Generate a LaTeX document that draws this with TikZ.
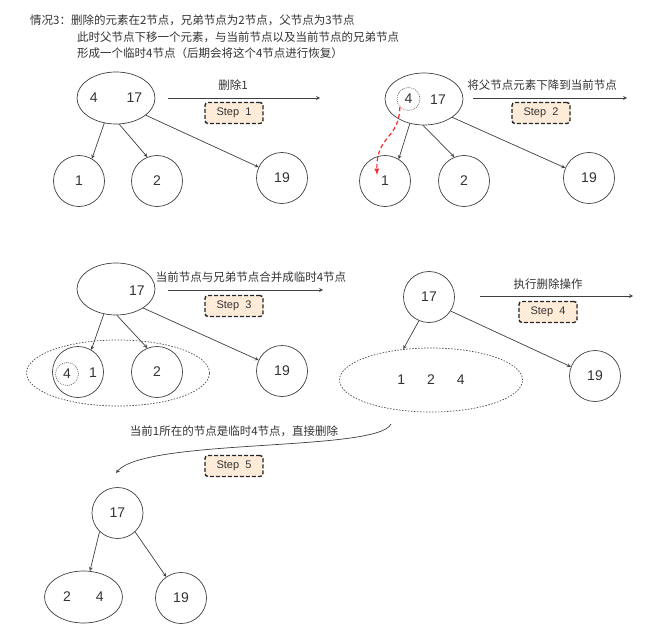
\documentclass[tikz,border=0pt]{standalone}
\usepackage{fontspec}
\setmainfont{Liberation Sans}
\newfontfamily\cjk{Noto Sans CJK SC}
\usetikzlibrary{calc,positioning,arrows,shapes,patterns}

\begin{document}
\begin{tikzpicture}[x=1pt,y=-1pt,>=stealth,
  every node/.style={text=black!80},
  nd/.style={draw=black!75,line width=.7pt,circle,minimum size=51pt,inner sep=0pt,font=\fontsize{14}{16}\selectfont},
  ell/.style={draw=black!75,line width=.7pt,ellipse,minimum width=78pt,minimum height=52pt,inner sep=0pt,font=\fontsize{14}{16}\selectfont},
  tmp/.style={draw=black!70,line width=.7pt,dash pattern=on 1.5pt off 1.5pt,ellipse,minimum width=183pt,minimum height=66pt,inner sep=0pt,font=\fontsize{14}{16}\selectfont},
  num/.style={font=\fontsize{14}{16}\selectfont,inner sep=0pt},
  sel/.style={draw=black!60,line width=.6pt,dash pattern=on 1pt off 1pt,circle,minimum size=23pt,inner sep=0pt,font=\fontsize{14}{16}\selectfont},
  txt/.style={font=\cjk\fontsize{11.5}{13}\selectfont,inner sep=0pt},
  stepbox/.style={draw=black!85,line width=1.4pt,dash pattern=on 4pt off 2pt,rounded corners=3pt,minimum width=58pt,minimum height=21pt,inner sep=0pt,font=\fontsize{11}{12}\selectfont,preaction={fill=orange!22},pattern=north east lines,pattern color=white},
  link/.style={->,draw=black!75,line width=.7pt}]
  \useasboundingbox[fill=white] (0,0) rectangle (661,639);

  % title
  \node[txt,anchor=west] (t1) at (30,20) {情况3：删除的元素在2节点，兄弟节点为2节点，父节点为3节点};
  \node[txt,anchor=west] (t2) at (77,37) {此时父节点下移一个元素，与当前节点以及当前节点的兄弟节点};
  \node[txt,anchor=west] (t3) at (77,53) {形成一个临时4节点（后期会将这个4节点进行恢复）};

  % step 1
  \node[ell] (p1) at (116,98) {4\hspace{29pt}17};
  \node[nd] (a1) at (79,181) {1};
  \node[nd] (a2) at (157,181) {2};
  \node[nd] (a3) at (282,178) {19};
  \draw[link] (p1.245) -- (a1.60);
  \draw[link] (p1.277) -- (a2.112);
  \draw[link] (p1.330) -- (a3.155);
  \coordinate (s1) at (168,98);
  \coordinate (e1) at (320,98);
  \draw[link] (s1) -- (e1);
  \node[txt] (l1) at (233,85) {删除1};
  \node[stepbox] (b1) at (234,113) {Step\ \ 1};

  % step 2
  \node[ell] (p2) at (424,99) {};
  \node[sel] (k2) at (408.5,99) {4};
  \node[num] (n2) at (438,100) {17};
  \node[nd] (a4) at (385,181) {1};
  \node[nd] (a5) at (464,181) {2};
  \node[nd] (a6) at (589,178) {19};
  \draw[link] (p2.240) -- (a4.58);
  \draw[link] (p2.268) -- (a5.112);
  \draw[link] (p2.327) -- (a6.157);
  \coordinate (r2) at (377,175);
  \draw[-latex,red!85,line width=1.2pt,dash pattern=on 4pt off 3pt] (k2.223) .. controls (399,140) and (376,135) .. (r2);
  \coordinate (s2) at (473,98);
  \coordinate (e2) at (627,98);
  \draw[link] (s2) -- (e2);
  \node[txt] (l2) at (542,85) {将父节点元素下降到当前节点};
  \node[stepbox] (b2) at (541,113) {Step\ \ 2};

  % step 3
  \node[ell] (p3) at (116,289) {};
  \node[num] (n3) at (137,291) {17};
  \node[tmp] (g3) at (118,373) {};
  \node[nd] (a7) at (78,372) {};
  \node[sel] (k3) at (67,374) {4};
  \node[num] (m3) at (93,373) {1};
  \node[nd] (a8) at (157,372) {2};
  \node[nd] (a9) at (282,371) {19};
  \draw[link] (p3.244) -- (a7.59);
  \draw[link] (p3.272) -- (a8.112);
  \draw[link] (p3.325) -- (a9.155);
  \coordinate (s3) at (168,290);
  \coordinate (e3) at (323,290);
  \draw[link] (s3) -- (e3);
  \node[txt] (l3) at (251,277) {当前节点与兄弟节点合并成临时4节点};
  \node[stepbox] (b3) at (234,306) {Step\ \ 3};

  % step 4
  \node[nd] (a10) at (429,297) {17};
  \node[tmp,minimum height=64pt] (g4) at (431,380) {1\hspace{22pt}2\hspace{22pt}4};
  \node[nd] (a11) at (595,376) {19};
  \draw[link] (a10.247) -- (g4.132);
  \draw[link] (a10.327) -- (a11.159);
  \coordinate (s4) at (480,296);
  \coordinate (e4) at (633,296);
  \draw[link] (s4) -- (e4);
  \node[txt] (l4) at (548,284) {执行删除操作};
  \node[stepbox] (b4) at (548,312) {Step\ \ 4};

  % step 5
  \coordinate (s5) at (391,424);
  \coordinate (e5) at (116,473);
  \draw[link] (s5) .. controls (378,452) and (145,438) .. (e5);
  \node[txt] (l5) at (234,431) {当前1所在的节点是临时4节点，直接删除};
  \node[stepbox] (b5) at (234,466) {Step\ \ 5};

  \node[nd] (a12) at (117.5,513) {17};
  \node[ell] (p5) at (83.5,597) {2\hspace{25pt}4};
  \node[nd] (a13) at (181,598) {19};
  \draw[link] (a12.226) -- (p5.76);
  \draw[link] (a12.313) -- (a13.125);
\end{tikzpicture}
\end{document}
